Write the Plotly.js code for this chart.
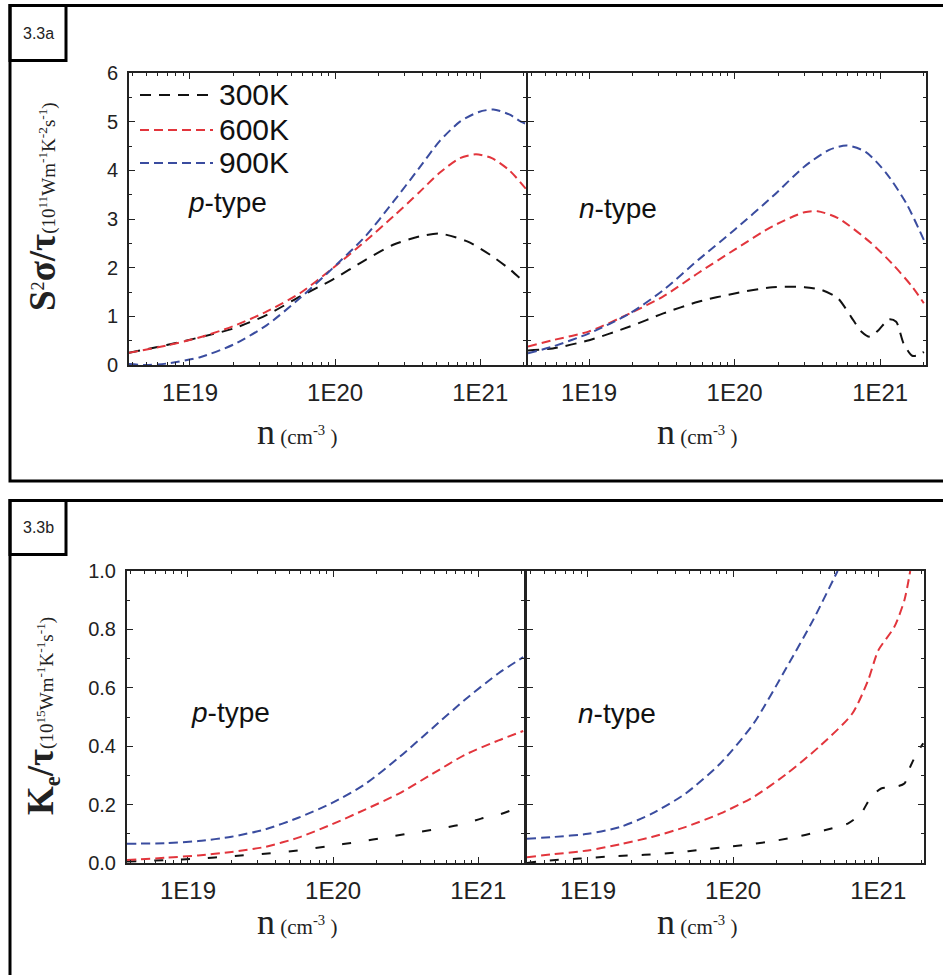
<!DOCTYPE html>
<html><head><meta charset="utf-8">
<script src="https://cdn.plot.ly/plotly-3.0.1.min.js"></script>
<style>html,body{margin:0;padding:0;background:#fff}</style>
</head><body><div id="chart" style="width:943px;height:975px"></div>
<script>
// ---------- DATA (x values are log10 of n in cm^-3) ----------
const tempLabels = ['300K', '600K', '900K'];
const xTickVals = [1e19, 1e20, 1e21];
const xTickText = ['1E19', '1E20', '1E21'];

// Panel 3.3a, p-type: S^2 sigma / tau
const pfP300_logN = [18.58,18.84,19.07,19.30,19.53,19.76,19.98,20.21,20.40,20.58,20.72,20.91,21.07,21.21,21.31];
const pfP300 = [0.25,0.41,0.57,0.75,1.03,1.41,1.75,2.16,2.47,2.64,2.70,2.54,2.26,1.95,1.68];
const pfP600_logN = [18.58,18.84,19.07,19.30,19.53,19.76,19.98,20.21,20.40,20.58,20.72,20.86,20.97,21.08,21.20,21.32];
const pfP600 = [0.25,0.40,0.57,0.80,1.10,1.48,1.98,2.55,3.05,3.55,3.95,4.25,4.33,4.25,4.00,3.60];
const pfP900_logN = [18.58,18.70,18.84,19.07,19.30,19.53,19.76,19.98,20.21,20.40,20.58,20.72,20.86,20.99,21.09,21.20,21.28,21.32];
const pfP900 = [0.02,0.00,0.03,0.16,0.42,0.82,1.38,1.98,2.65,3.35,4.05,4.60,5.00,5.20,5.25,5.15,5.00,4.95];

// Panel 3.3a, n-type
const pfN300_logN = [18.58,18.75,19.00,19.28,19.51,19.75,20.00,20.26,20.48,20.60,20.71,20.80,20.87,20.93,20.99,21.06,21.11,21.16,21.22,21.27,21.30];
const pfN300 = [0.30,0.34,0.51,0.79,1.06,1.30,1.47,1.60,1.60,1.54,1.37,0.99,0.69,0.58,0.72,0.94,0.89,0.45,0.19,0.21,0.27];
const pfN600_logN = [18.58,18.75,19.00,19.28,19.51,19.75,20.00,20.26,20.48,20.57,20.71,20.94,21.08,21.22,21.30];
const pfN600 = [0.38,0.51,0.69,1.06,1.41,1.89,2.37,2.85,3.14,3.16,3.02,2.50,2.09,1.61,1.27];
const pfN900_logN = [18.58,18.75,19.00,19.28,19.51,19.75,20.00,20.26,20.48,20.65,20.77,20.90,21.04,21.18,21.30];
const pfN900 = [0.24,0.38,0.65,1.06,1.54,2.16,2.78,3.46,4.08,4.42,4.51,4.38,3.95,3.32,2.57];

// Panel 3.3b, p-type: Ke / tau
const keP300_logN = [18.58,18.85,19.07,19.30,19.53,19.76,19.97,20.17,20.38,20.56,20.77,20.91,21.02,21.14,21.30];
const keP300 = [0.005,0.010,0.015,0.023,0.032,0.043,0.058,0.072,0.089,0.104,0.121,0.135,0.152,0.165,0.195];
const keP600_logN = [18.58,18.85,19.07,19.30,19.53,19.76,19.99,20.22,20.45,20.68,20.91,21.14,21.31];
const keP600 = [0.010,0.018,0.026,0.038,0.055,0.087,0.132,0.183,0.237,0.304,0.371,0.420,0.452];
const keP900_logN = [18.58,18.85,19.07,19.30,19.53,19.76,19.99,20.22,20.45,20.68,20.91,21.14,21.31];
const keP900 = [0.066,0.068,0.075,0.090,0.115,0.155,0.205,0.270,0.360,0.460,0.560,0.650,0.705];

// Panel 3.3b, n-type
const keN300_logN = [18.58,18.69,18.94,19.17,19.39,19.59,19.79,19.99,20.15,20.31,20.47,20.63,20.79,20.88,20.95,21.02,21.11,21.18,21.22,21.27,21.31];
const keN300 = [0.000,0.007,0.015,0.023,0.028,0.035,0.046,0.057,0.066,0.078,0.093,0.112,0.135,0.169,0.226,0.255,0.260,0.272,0.329,0.380,0.410];
const keN600_logN = [18.58,18.76,19.00,19.22,19.44,19.67,19.91,20.14,20.37,20.59,20.82,20.93,21.00,21.11,21.18,21.22];
const keN600 = [0.020,0.030,0.043,0.064,0.089,0.123,0.169,0.226,0.306,0.397,0.511,0.626,0.728,0.808,0.900,1.000];
const keN900_logN = [18.58,18.76,19.00,19.22,19.44,19.67,19.91,20.14,20.37,20.55,20.70,20.72];
const keN900 = [0.083,0.089,0.100,0.123,0.169,0.237,0.340,0.477,0.671,0.831,0.980,1.000];

// ---------- STYLE ----------
const colors = ['#111111', '#e2353c', '#3a4c9f'];
const W = 943, H = 975;
const px = v => v / W;
const py = v => 1 - v / H;
const toN = arr => arr.map(e => Math.pow(10, e));

function tr(logN, y, ci, xa, ya, dash) {
  return {
    x: toN(logN), y: y, xaxis: xa, yaxis: ya, type: 'scatter', mode: 'lines',
    line: {color: colors[ci], width: 2, dash: dash || '9px,5px', shape: 'spline', smoothing: 0.7},
    name: tempLabels[ci], showlegend: false, hoverinfo: 'skip'
  };
}

const data = [
  tr(pfP300_logN, pfP300, 0, 'x', 'y', '11px,8px'),
  tr(pfP600_logN, pfP600, 1, 'x', 'y'),
  tr(pfP900_logN, pfP900, 2, 'x', 'y'),
  tr(pfN300_logN, pfN300, 0, 'x2', 'y2', '11px,8px'),
  tr(pfN600_logN, pfN600, 1, 'x2', 'y2'),
  tr(pfN900_logN, pfN900, 2, 'x2', 'y2'),
  tr(keP300_logN, keP300, 0, 'x3', 'y3', '9px,18px'),
  tr(keP600_logN, keP600, 1, 'x3', 'y3'),
  tr(keP900_logN, keP900, 2, 'x3', 'y3'),
  tr(keN300_logN, keN300, 0, 'x4', 'y4', '9px,14px'),
  tr(keN600_logN, keN600, 1, 'x4', 'y4'),
  tr(keN900_logN, keN900, 2, 'x4', 'y4')
];

const axCol = '#222';
function xax(x0, x1, anchor) {
  return {
    type: 'log', domain: [px(x0), px(x1)], anchor: anchor, range: [18.58, 21.315],
    tickmode: 'array', tickvals: xTickVals, ticktext: xTickText,
    ticks: 'inside', ticklen: 6, tickwidth: 1.3, tickcolor: axCol,
    showline: true, linecolor: axCol, linewidth: 2, mirror: 'allticks',
    showgrid: false, zeroline: false, ticklabelstandoff: 5,
    tickfont: {family: 'Liberation Sans, Arial, sans-serif', size: 24, color: axCol},
    minor: {ticks: 'inside', ticklen: 3, tickwidth: 1, tickcolor: axCol, dtick: 'D1', showgrid: false},
    fixedrange: true
  };
}
function yax(y0, y1, anchor, rng, dt, mdt, fmt, showLabels) {
  return {
    domain: [py(y1), py(y0)], anchor: anchor, range: rng,
    tick0: 0, dtick: dt, tickformat: fmt,
    ticks: 'inside', ticklen: 6, tickwidth: 1.3, tickcolor: axCol,
    showline: true, linecolor: axCol, linewidth: 2, mirror: 'allticks',
    showgrid: false, zeroline: false, showticklabels: showLabels,
    ticklabelstandoff: 5,
    tickfont: {family: 'Liberation Sans, Arial, sans-serif', size: 20, color: axCol},
    minor: {ticks: 'inside', ticklen: 3, tickwidth: 1, tickcolor: axCol, dtick: mdt, showgrid: false},
    fixedrange: true
  };
}

const shapes = [];
const annotations = [];

// frames and label boxes
function frame(top, bottom, boxBottom, label) {
  shapes.push({type: 'rect', xref: 'paper', yref: 'paper', x0: px(10), x1: px(990), y0: py(top), y1: py(bottom),
               line: {color: '#000', width: 3}, fillcolor: 'rgba(0,0,0,0)'});
  shapes.push({type: 'rect', xref: 'paper', yref: 'paper', x0: px(10), x1: px(66), y0: py(top), y1: py(boxBottom),
               line: {color: '#000', width: 3}, fillcolor: 'rgba(0,0,0,0)'});
  annotations.push({xref: 'paper', yref: 'paper', x: px(38), y: py((top + boxBottom) / 2), text: label,
                    showarrow: false, xanchor: 'center', yanchor: 'middle',
                    font: {family: 'Liberation Sans, Arial, sans-serif', size: 16, color: '#222'}});
}
frame(5.5, 481, 60.5, '3.3a');
frame(500.5, 1010, 554.5, '3.3b');

// legend samples (top-left panel)
const legY = [95, 130, 163];
tempLabels.forEach((lab, i) => {
  shapes.push({type: 'line', xref: 'paper', yref: 'paper', x0: px(140), x1: px(213), y0: py(legY[i]), y1: py(legY[i]),
               line: {color: colors[i], width: 2, dash: i === 0 ? '11px,8px' : '9px,5px'}});
  annotations.push({xref: 'paper', yref: 'paper', x: px(217), y: py(legY[i]), text: lab, showarrow: false,
                    xanchor: 'left', yanchor: 'middle',
                    font: {family: 'Liberation Sans, Arial, sans-serif', size: 30, color: '#111'}});
});

// type labels
const typeLab = [
  {x: 186, y: 202, t: '<i>p</i>-type'},
  {x: 577, y: 208, t: '<i>n</i>-type'},
  {x: 189, y: 712, t: '<i>p</i>-type'},
  {x: 576, y: 713, t: '<i>n</i>-type'}
];
typeLab.forEach(o => annotations.push({xref: 'paper', yref: 'paper', x: px(o.x), y: py(o.y), text: o.t,
  showarrow: false, xanchor: 'left', yanchor: 'middle',
  font: {family: 'Liberation Sans, Arial, sans-serif', size: 28, color: '#111'}}));

// x axis titles
const xTitle = '<span style="font-size:36px">n</span> (cm<sup>-3</sup> )';
[[297, 432], [697, 432], [297, 922], [697, 922]].forEach(p => annotations.push({
  xref: 'paper', yref: 'paper', x: px(p[0]), y: py(p[1]), text: xTitle, showarrow: false,
  xanchor: 'center', yanchor: 'middle',
  font: {family: 'Liberation Serif, Times New Roman, serif', size: 21, color: '#222'}}));

// y axis titles
const big = s => '<span style="font-size:37px;font-weight:bold">' + s + '</span>';
const yTitleTop = big('S') + '<span style="font-size:26px"><sup>2</sup></span>' + big('σ/τ') +
  '(10<sup>11</sup>Wm<sup>-1</sup>K<sup>-2</sup>s<sup>-1</sup>)';
const yTitleBot = big('K') + '<span style="font-size:32px;font-weight:bold"><sub>e</sub></span>' + big('/τ') +
  '(10<sup>15</sup>Wm<sup>-1</sup>K<sup>-1</sup>s<sup>-1</sup>)';
annotations.push({xref: 'paper', yref: 'paper', x: px(42), y: py(207), text: yTitleTop, showarrow: false,
  textangle: -90, xanchor: 'center', yanchor: 'middle',
  font: {family: 'Liberation Serif, Times New Roman, serif', size: 19, color: '#222'}});
annotations.push({xref: 'paper', yref: 'paper', x: px(42), y: py(716), text: yTitleBot, showarrow: false,
  textangle: -90, xanchor: 'center', yanchor: 'middle',
  font: {family: 'Liberation Serif, Times New Roman, serif', size: 19, color: '#222'}});

const layout = {
  width: W, height: H, margin: {l: 0, r: 0, t: 0, b: 0},
  paper_bgcolor: '#fff', plot_bgcolor: '#fff', showlegend: false,
  xaxis: xax(129, 526, 'y'),
  xaxis2: xax(528, 926, 'y2'),
  xaxis3: xax(127, 524, 'y3'),
  xaxis4: xax(527, 924, 'y4'),
  yaxis: yax(73, 365, 'x', [0, 6], 1, 0.5, 'd', true),
  yaxis2: yax(73, 365, 'x2', [0, 6], 1, 0.5, 'd', false),
  yaxis3: yax(571, 863, 'x3', [0, 1], 0.2, 0.1, '.1f', true),
  yaxis4: yax(571, 863, 'x4', [0, 1], 0.2, 0.1, '.1f', false),
  shapes: shapes, annotations: annotations
};

Plotly.newPlot('chart', data, layout, {displayModeBar: false});
</script></body></html>
